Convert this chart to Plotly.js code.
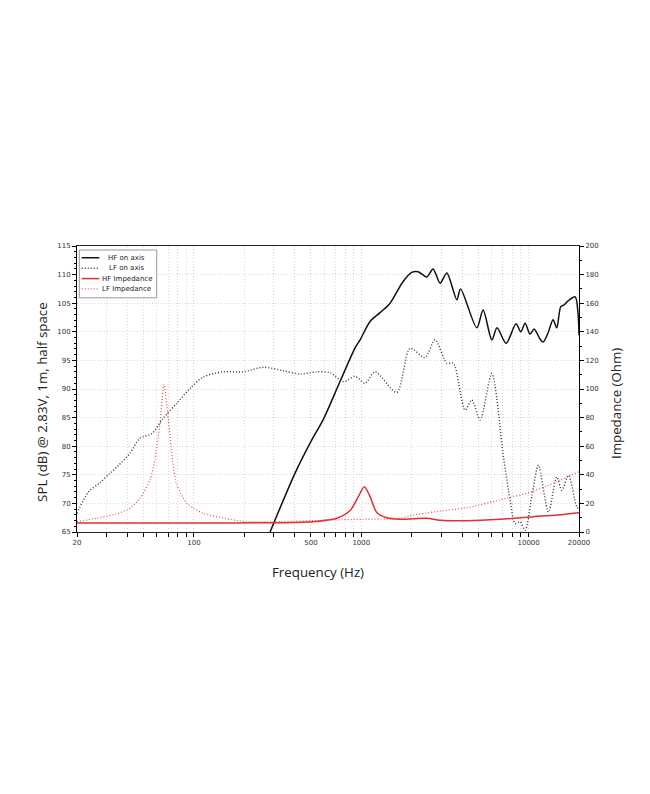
<!DOCTYPE html>
<html>
<head>
<meta charset="utf-8">
<script src="https://cdn.plot.ly/plotly-3.0.1.min.js"></script>
<style>html,body{margin:0;padding:0;background:#fff;}#chart{width:650px;height:794px;}</style>
</head>
<body>
<div id="chart"></div>
<script>
// HF on axis (SPL, dB)
const hfFreq = [285, 402, 506, 591, 746, 918, 984, 1128, 1300, 1486, 1778, 2004, 2185, 2461, 2685, 2958, 3244, 3724, 3920, 4900, 5346, 6026, 6477, 7334, 8414, 8977, 9523, 10200, 10786, 11715, 12210, 13060, 14000, 14730, 15560, 16290, 17220, 18970, 19700, 20000];
const hfSpl  = [65, 75.3, 81.1, 84.6, 91.3, 97.2, 98.6, 101.8, 103.4, 105.0, 108.8, 110.4, 110.5, 109.6, 111.0, 108.5, 110.3, 105.6, 107.5, 100.7, 103.8, 98.6, 100.7, 98.0, 101.4, 100.0, 101.5, 99.6, 100.5, 98.7, 98.2, 99.8, 102.1, 100.7, 104.4, 104.7, 105.4, 106.1, 103.5, 99.4];

// LF on axis (SPL, dB)
const lfFreq = [20, 23.4, 27.4, 31.5, 35.3, 41.5, 47.6, 55.9, 65.6, 78.9, 94.7, 113.7, 149.8, 197, 260, 342, 430, 541, 651, 781, 918, 1053, 1208, 1629, 1956, 2404, 2759, 3243, 3550, 4170, 4573, 5127, 6025, 7068, 7750, 8300, 8892, 9525, 10450, 11440, 13130, 14730, 15790, 17290, 19400, 20000];
const lfSpl  = [68.3, 72.0, 73.6, 75.3, 76.6, 78.8, 81.4, 82.2, 84.9, 87.5, 90.1, 92.1, 93.0, 93.0, 93.8, 93.2, 92.6, 93.0, 92.85, 91.3, 92.2, 91.0, 93.0, 89.4, 97.1, 95.5, 98.6, 94.5, 94.5, 86.3, 88.1, 84.6, 92.7, 78.2, 70.6, 66.5, 66.8, 65.3, 71.2, 76.7, 68.5, 74.6, 72.3, 74.9, 69.4, 69.0];

// HF Impedance (Ohm)
const hfImpFreq = [20, 100, 327, 515, 713, 857, 960, 1043, 1128, 1237, 1420, 1705, 2048, 2461, 2958, 4269, 6750, 10680, 14730, 20000];
const hfImp     = [6.3, 6.3, 6.5, 7.2, 9.6, 15.0, 24.7, 31.7, 24.7, 13.7, 10.0, 9.0, 9.3, 9.6, 8.2, 7.9, 8.9, 10.7, 11.9, 13.5];

// LF Impedance (Ohm)
const lfImpFreq = [20, 26.2, 35.3, 41.5, 47.6, 54.6, 58.5, 62.7, 66.2, 70.3, 74.5, 78.9, 90.5, 100, 113.7, 164, 206.7, 327, 651, 1024, 1705, 2039, 2461, 2700, 4269, 6750, 10680, 14730, 20000];
const lfImp     = [7.2, 9.6, 13.0, 16.6, 23.6, 36.4, 51.0, 76.0, 103.3, 79.0, 50.0, 33.0, 20.0, 16.5, 13.0, 8.9, 7.2, 7.2, 8.4, 8.9, 9.6, 11.9, 13.3, 14.0, 17.0, 22.4, 28.5, 35.2, 42.2];

// Tick labels
const xTickVals = [20,30,40,50,60,70,80,90,100,200,300,400,500,600,700,800,900,1000,2000,3000,4000,5000,6000,7000,8000,9000,10000,20000];
const xLabelled = [20,100,500,1000,10000,20000];
const xTickText = xTickVals.map(v => (xLabelled.includes(v) ? String(v) : ''));

// Series names and styles
const seriesNames = ['HF on axis', 'LF on axis', 'HF Impedance', 'LF Impedance'];
const styles = [
  {color: '#111111', width: 1.5, dash: 'solid'},
  {color: '#333333', width: 1.4, dash: '1px,2px'},
  {color: '#e03030', width: 1.5, dash: 'solid'},
  {color: '#e05050', width: 1.2, dash: '1px,2px'}
];

const traces = [
  {x: hfFreq, y: hfSpl, name: seriesNames[0], type: 'scatter', mode: 'lines',
   line: Object.assign({shape: 'spline', smoothing: 0.8}, styles[0])},
  {x: lfFreq, y: lfSpl, name: seriesNames[1], type: 'scatter', mode: 'lines',
   line: Object.assign({shape: 'spline', smoothing: 0.8}, styles[1])},
  {x: hfImpFreq, y: hfImp, name: seriesNames[2], type: 'scatter', mode: 'lines', yaxis: 'y2',
   line: Object.assign({shape: 'spline', smoothing: 0.8}, styles[2])},
  {x: lfImpFreq, y: lfImp, name: seriesNames[3], type: 'scatter', mode: 'lines', yaxis: 'y2',
   line: Object.assign({shape: 'spline', smoothing: 0.6}, styles[3])}
];

// Compact legend (box, key lines, labels) in paper coordinates
const legendRows = [0.959, 0.922, 0.886, 0.850];
const shapes = [{type: 'rect', xref: 'paper', yref: 'paper', x0: 0.0046, x1: 0.1588, y0: 0.819, y1: 0.986,
  line: {color: '#999', width: 1}, fillcolor: '#fff', layer: 'above'}];
const annotations = [];
seriesNames.forEach((n, i) => {
  shapes.push({type: 'line', xref: 'paper', yref: 'paper', x0: 0.0094, x1: 0.0444, y0: legendRows[i], y1: legendRows[i],
    line: {color: styles[i].color, width: styles[i].width, dash: styles[i].dash}, layer: 'above'});
  annotations.push({xref: 'paper', yref: 'paper', x: 0.0996, y: legendRows[i], text: n, showarrow: false,
    xanchor: 'center', yanchor: 'middle', font: {family: 'DejaVu Sans', size: 7, color: '#222'}});
});
const titleFont = {family: 'Open Sans', size: 13.3, color: '#222'};
annotations.push({xref: 'paper', yref: 'paper', x: -0.0697, y: 0.455, text: 'SPL (dB) @ 2.83V, 1m, half space',
  textangle: -90, showarrow: false, xanchor: 'center', yanchor: 'middle', font: titleFont});
annotations.push({xref: 'paper', yref: 'paper', x: 1.0737, y: 0.451, text: 'Impedance (Ohm)',
  textangle: -90, showarrow: false, xanchor: 'center', yanchor: 'middle', font: titleFont});
annotations.push({xref: 'paper', yref: 'paper', x: 0.480, y: -0.140, text: 'Frequency (Hz)',
  showarrow: false, xanchor: 'center', yanchor: 'middle', font: titleFont});

const tickFont = {family: 'DejaVu Sans', size: 7, color: '#333'};

const layout = {
  width: 650, height: 794,
  margin: {l: 77, r: 71, t: 246, b: 262},
  paper_bgcolor: '#fff', plot_bgcolor: '#fff',
  showlegend: false,
  shapes: shapes,
  annotations: annotations,
  xaxis: {type: 'log', range: [Math.log10(20), Math.log10(20000)],
    tickmode: 'array', tickvals: xTickVals, ticktext: xTickText,
    ticks: 'outside', ticklen: 4, tickcolor: '#000', tickfont: tickFont,
    showline: true, linecolor: '#222', linewidth: 1, mirror: true,
    showgrid: true, gridcolor: '#d8d8d8', griddash: '1px,2px', gridwidth: 1,
    zeroline: false},
  yaxis: {range: [65, 115], tickmode: 'linear', tick0: 65, dtick: 5,
    ticks: 'outside', ticklen: 4, tickcolor: '#000', tickfont: tickFont,
    minor: {dtick: 1, ticklen: 2, tickcolor: '#000', showgrid: false, ticks: 'outside'},
    showline: true, linecolor: '#000', linewidth: 1,
    showgrid: true, gridcolor: '#d8d8d8', griddash: '1px,2px', gridwidth: 1,
    zeroline: false},
  yaxis2: {range: [0, 200], overlaying: 'y', side: 'right', tickmode: 'linear', tick0: 0, dtick: 20,
    ticks: 'outside', ticklen: 4, tickcolor: '#000', tickfont: tickFont,
    minor: {dtick: 10, ticklen: 2, tickcolor: '#000', showgrid: false, ticks: 'outside'},
    showline: true, linecolor: '#000', linewidth: 1,
    showgrid: false, zeroline: false}
};

Plotly.newPlot('chart', traces, layout, {displayModeBar: false, staticPlot: true});
</script>
</body>
</html>
